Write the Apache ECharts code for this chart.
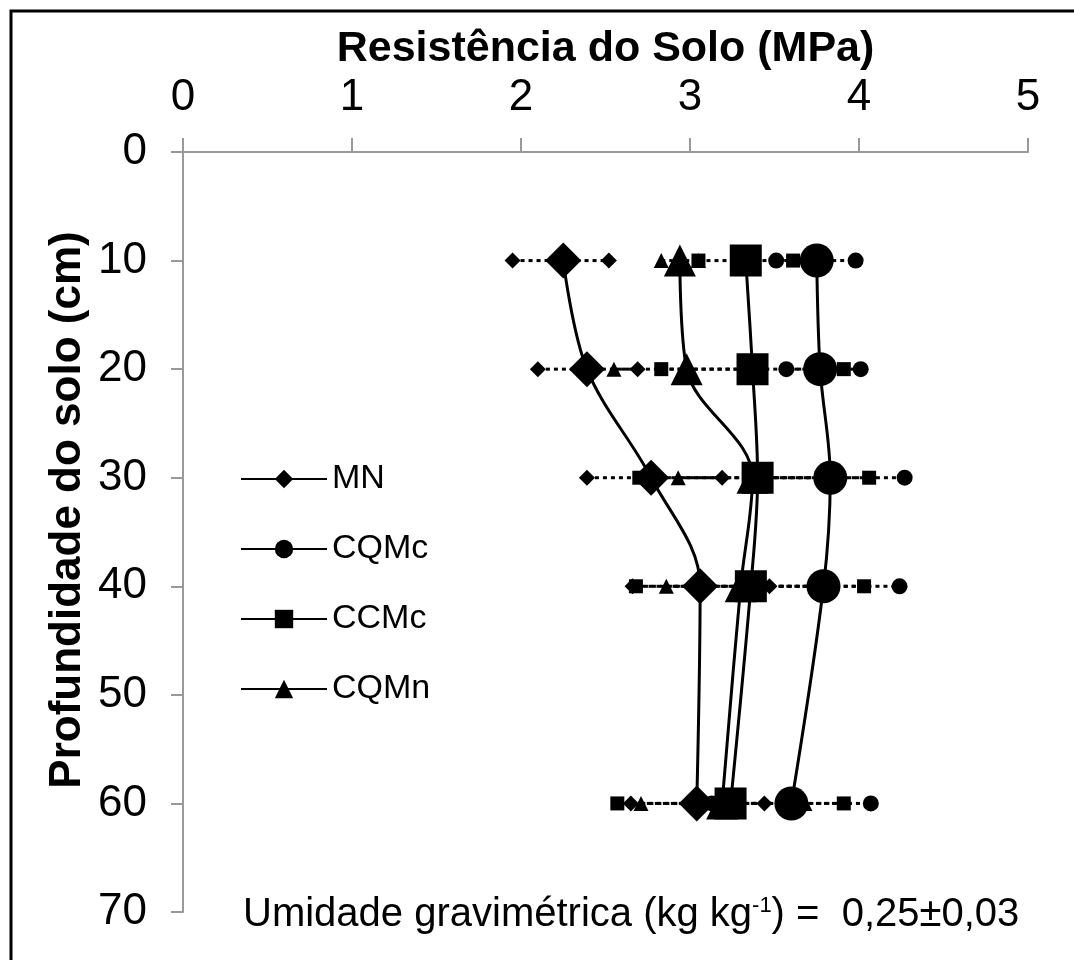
<!DOCTYPE html>
<html>
<head>
<meta charset="utf-8">
<script src="https://cdn.jsdelivr.net/npm/echarts@6/dist/echarts.min.js"></script>
<style>
html,body{margin:0;padding:0;background:#fff;}
#chart{width:1074px;height:960px;}
</style>
</head>
<body>
<div id="chart"></div>
<script>
// ---- data ----
const depths = [10, 20, 30, 40, 60];
const seriesNames = ['MN', 'CQMc', 'CCMc', 'CQMn'];
// mean resistance (MPa) at each depth
const meanMN   = [2.25, 2.39, 2.77, 3.06, 3.04];
const meanCQMc = [3.75, 3.77, 3.83, 3.79, 3.60];
const meanCCMc = [3.33, 3.37, 3.40, 3.36, 3.24];
const meanCQMn = [2.94, 2.98, 3.37, 3.30, 3.19];
// lower / upper ends of the dotted spread bars
const lowMN    = [1.95, 2.10, 2.39, 2.66, 2.65];
const highMN   = [2.52, 2.69, 3.19, 3.47, 3.44];
const lowCQMc  = [3.51, 3.57, 3.39, 3.34, 3.13];
const highCQMc = [3.98, 4.01, 4.27, 4.24, 4.07];
const lowCCMc  = [3.05, 2.83, 2.70, 2.68, 2.57];
const highCCMc = [3.61, 3.91, 4.06, 4.03, 3.91];
const lowCQMn  = [2.83, 2.55, 2.93, 2.86, 2.71];
const highCQMn = [3.05, 3.41, 3.81, 3.74, 3.68];
const xTicks = [0, 1, 2, 3, 4, 5];
const yTicks = [0, 10, 20, 30, 40, 50, 60, 70];

const FONT = '"Liberation Sans", Arial, sans-serif';
const groups = [
  {name: 'MN',   mean: meanMN,   low: lowMN,   high: highMN,   symbol: 'diamond',  big: 36, small: 16},
  {name: 'CQMc', mean: meanCQMc, low: lowCQMc, high: highCQMc, symbol: 'circle',   big: 34, small: 16},
  {name: 'CCMc', mean: meanCCMc, low: lowCCMc, high: highCCMc, symbol: 'rect',     big: 32, small: 14},
  {name: 'CQMn', mean: meanCQMn, low: lowCQMn, high: highCQMn, symbol: 'triangle', big: 32, small: 15}
];

const series = [];
// dotted spread bars (drawn underneath)
groups.forEach(g => {
  depths.forEach((d, i) => {
    series.push({
      name: g.name + ' spread ' + d,
      type: 'line',
      data: [[g.low[i], d], [g.high[i], d]],
      symbol: g.symbol,
      symbolSize: g.small,
      itemStyle: {color: '#000'},
      lineStyle: {color: '#000', width: 3, type: [4, 4]},
      z: 2,
      silent: true,
      animation: false
    });
  });
});
// smoothed mean curves
groups.forEach(g => {
  series.push({
    name: g.name,
    type: 'line',
    data: depths.map((d, i) => [g.mean[i], d]),
    smooth: 0.35,
    symbol: g.symbol,
    symbolSize: g.big,
    itemStyle: {color: '#000'},
    lineStyle: {color: '#000', width: 3},
    z: 3,
    animation: false
  });
});

const chart = echarts.init(document.getElementById('chart'));
chart.setOption({
  backgroundColor: '#fff',
  animation: false,
  grid: {left: 183, top: 152, right: 46, bottom: 48, containLabel: false},
  xAxis: {
    type: 'value', position: 'top', min: xTicks[0], max: xTicks[xTicks.length - 1], interval: 1,
    name: 'Resistência do Solo (MPa)', nameLocation: 'middle', nameGap: 81,
    nameTextStyle: {fontFamily: FONT, fontSize: 43, fontWeight: 'bold', color: '#000'},
    axisLine: {show: true, onZero: false, lineStyle: {color: '#999', width: 2}},
    axisTick: {show: true, length: 14, lineStyle: {color: '#999', width: 2}},
    axisLabel: {fontFamily: FONT, fontSize: 44, color: '#000', margin: 32},
    splitLine: {show: false}
  },
  yAxis: {
    type: 'value', inverse: true, min: yTicks[0], max: yTicks[yTicks.length - 1], interval: 10,
    axisLine: {show: true, onZero: false, lineStyle: {color: '#999', width: 2}},
    axisTick: {show: true, length: 12, lineStyle: {color: '#999', width: 2}},
    axisLabel: {fontFamily: FONT, fontSize: 44, color: '#000', margin: 36},
    splitLine: {show: false}
  },
  legend: {
    data: seriesNames,
    orient: 'vertical', left: 240, top: 462, padding: 0,
    itemWidth: 86, itemHeight: 23, itemGap: 36,
    textStyle: {fontFamily: FONT, fontSize: 34, color: '#000', lineHeight: 32},
    selectedMode: false
  },
  graphic: [
    {type: 'rect', shape: {x: 11, y: 11, width: 1200, height: 1100},
     style: {fill: 'none', stroke: '#000', lineWidth: 3}, silent: true, z: 100},
    {type: 'text', x: 68, y: 510, rotation: Math.PI / 2,
     style: {text: 'Profundidade do solo (cm)', font: 'bold 44px ' + FONT, fill: '#000',
             align: 'center', verticalAlign: 'middle'}},
    {type: 'text', x: 243, y: 915,
     style: {text: '{a|Umidade gravimétrica (kg kg}{s|-1}{a|) =  0,25±0,03}',
             verticalAlign: 'middle', align: 'left',
             rich: {a: {fontFamily: FONT, fontSize: 40, fill: '#000', color: '#000'},
                    s: {fontFamily: FONT, fontSize: 22, color: '#000', verticalAlign: 'top', padding: [0, 0, 18, 0]}}}}
  ],
  series: series
});
</script>
</body>
</html>
